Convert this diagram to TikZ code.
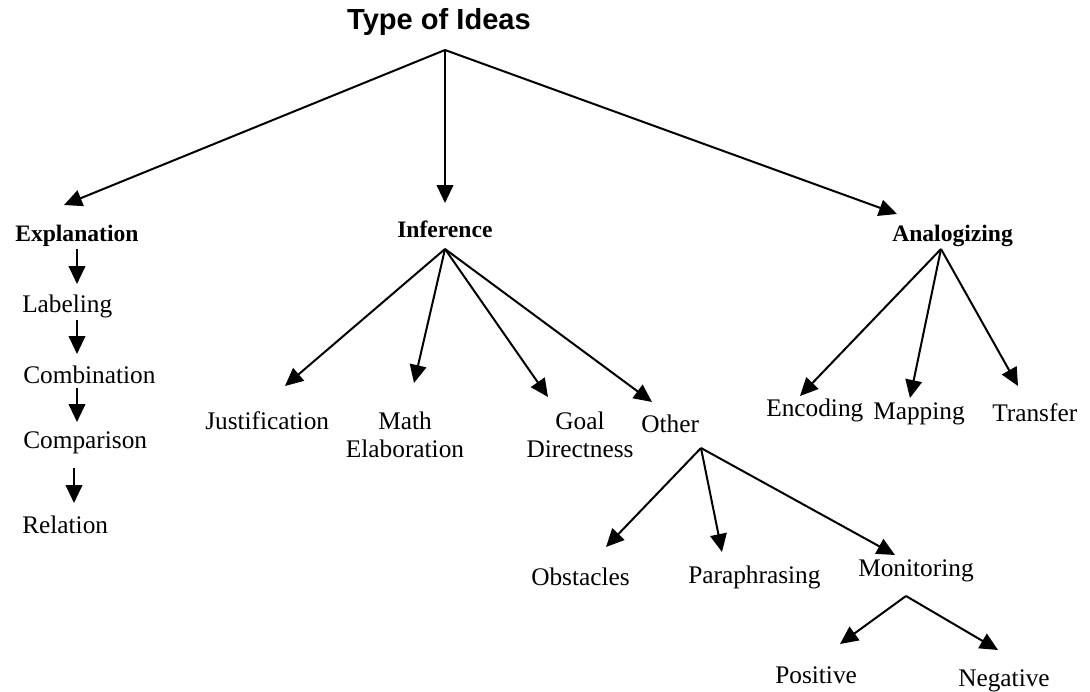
\documentclass[tikz,border=0pt]{standalone}
\usepackage{fontspec}
\setmainfont{Liberation Serif}
\newfontfamily\titlefont{Liberation Sans}
\usetikzlibrary{arrows.meta}
\begin{document}
\begin{tikzpicture}[x=0.75pt,y=-0.75pt,
  lbl/.style={inner sep=0pt, font=\fontsize{19}{21}\selectfont, anchor=west},
  mlbl/.style={inner sep=0pt, font=\fontsize{19}{21}\selectfont, align=center, anchor=center},
  blbl/.style={inner sep=0pt, font=\fontsize{17.7}{21}\selectfont\bfseries, anchor=west},
  ttl/.style={inner sep=0pt, font=\titlefont\fontsize{21.8}{24}\selectfont\bfseries, anchor=center},
  arr/.style={line width=1.5pt, -{Triangle[length=13.5pt,width=12.5pt]}}]
\useasboundingbox (0,0) rectangle (1090,692);

% nodes
\node[ttl] (title) at (439,22) {Type of Ideas};
\node[blbl] (expl) at (15,236) {Explanation};
\node[blbl] (inf) at (397,229) {Inference};
\node[blbl] (ana) at (892,236) {Analogizing};

\node[lbl] (lab) at (22,306) {Labeling};
\node[lbl] (comb) at (23,375) {Combination};
\node[lbl] (comp) at (23,443) {Comparison};
\node[lbl] (rel) at (22,525) {Relation};

\node[lbl] (jus) at (205,421) {Justification};
\node[mlbl] (math) at (405,435) {Math\\Elaboration};
\node[mlbl] (goal) at (580,435) {Goal\\Directness};
\node[lbl] (oth) at (641,424) {Other};

\node[lbl] (obs) at (531,577) {Obstacles};
\node[lbl] (par) at (688,577) {Paraphrasing};
\node[lbl] (mon) at (858,571) {Monitoring};
\node[lbl] (pos) at (775,675) {Positive};
\node[lbl] (neg) at (958,681) {Negative};

\node[lbl] (enc) at (766,410) {Encoding};
\node[lbl] (map) at (873,414) {Mapping};
\node[lbl] (tra) at (992,413) {Transfer};

% connector end points
\coordinate (tA) at (445,50);
\coordinate (explT) at (64,205);
\coordinate (infT) at (445,203);
\coordinate (anaT) at (897,214);

\coordinate (e1) at (77,249);  \coordinate (labT) at (77,284);
\coordinate (e2) at (77,320);  \coordinate (combT) at (77,354);
\coordinate (e3) at (77,388);  \coordinate (compT) at (77,422);
\coordinate (e4) at (74,468);  \coordinate (relT) at (74,503);

\coordinate (iA) at (445,249);
\coordinate (jusT) at (285,386);
\coordinate (mathT) at (414,383);
\coordinate (goalT) at (548,397);
\coordinate (othT) at (652,402);

\coordinate (oA) at (701,448);
\coordinate (obsT) at (606,547);
\coordinate (parT) at (722,552);
\coordinate (monT) at (895,555);

\coordinate (mA) at (906,596);
\coordinate (posT) at (840,644);
\coordinate (negT) at (998,650);

\coordinate (aA) at (941,249);
\coordinate (encT) at (800,396);
\coordinate (mapT) at (910,398);
\coordinate (traT) at (1018,386);

% connectors
\draw[arr] (tA) -- (explT);
\draw[arr] (tA) -- (infT);
\draw[arr] (tA) -- (anaT);

\draw[arr] (e1) -- (labT);
\draw[arr] (e2) -- (combT);
\draw[arr] (e3) -- (compT);
\draw[arr] (e4) -- (relT);

\draw[arr] (iA) -- (jusT);
\draw[arr] (iA) -- (mathT);
\draw[arr] (iA) -- (goalT);
\draw[arr] (iA) -- (othT);

\draw[arr] (oA) -- (obsT);
\draw[arr] (oA) -- (parT);
\draw[arr] (oA) -- (monT);

\draw[arr] (mA) -- (posT);
\draw[arr] (mA) -- (negT);

\draw[arr] (aA) -- (encT);
\draw[arr] (aA) -- (mapT);
\draw[arr] (aA) -- (traT);
\end{tikzpicture}
\end{document}
